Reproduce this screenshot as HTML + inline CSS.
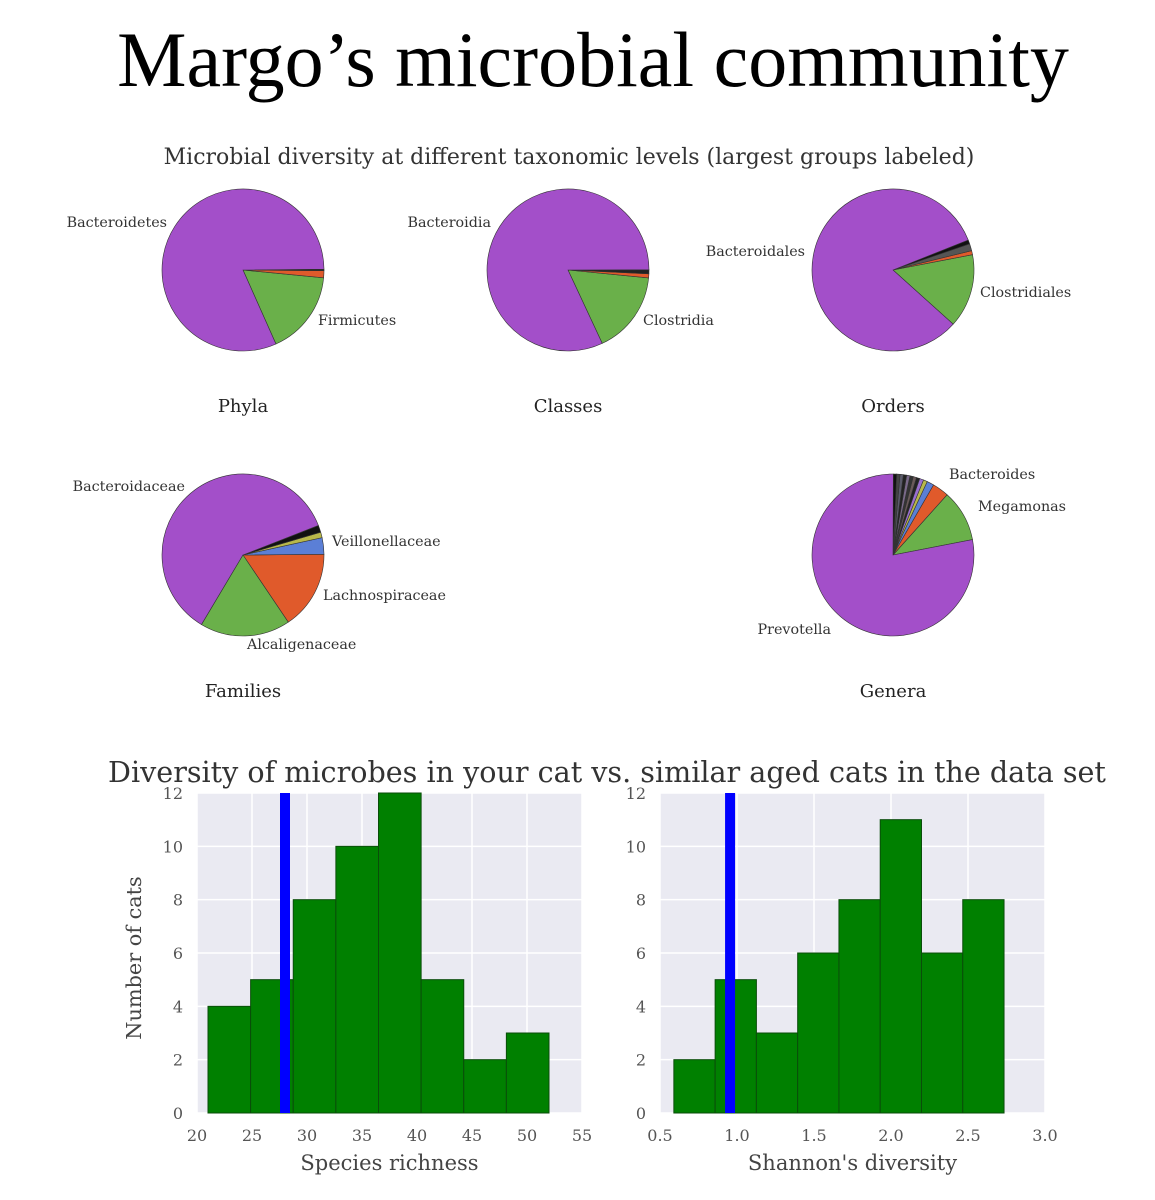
<!DOCTYPE html>
<html><head><meta charset="utf-8"><style>
body{margin:0;background:#fff;width:1155px;height:1200px;overflow:hidden}
svg{display:block}
.serif{font-family:"DejaVu Serif","Liberation Serif",serif}
</style></head><body>
<svg id="chart" width="1155" height="1200" viewBox="0 0 1155 1200">
<text x="593" y="86" text-anchor="middle" font-family="Liberation Serif, serif" font-size="78" fill="#000">Margo’s microbial community</text>
<text class="serif" x="569" y="164" text-anchor="middle" font-size="22" fill="#333">Microbial diversity at different taxonomic levels (largest groups labeled)</text>
<g id="pies"></g>
<g id="hists"></g>
</svg>
<script>
// ---- Pie data ----
const pieNames = ["Phyla","Classes","Orders","Families","Genera"];
const phylaValues = [0.168,0.014,0.003,0.815];
const classesValues = [0.165,0.008,0.008,0.819];
const ordersValues = [0.147,0.008,0.014,0.008,0.823];
const familiesValues = [0.157,0.033,0.011,0.014,0.605,0.18];
const generaValues = [0.103,0.033,0.014,0.008,0.008,0.0066,0.0066,0.0066,0.0066,0.0066,0.0066,0.0066,0.0066,0.781];
const phylaColors = ["#6ab04a","#e05a2b","#222","#a34fc9"];
const classesColors = ["#6ab04a","#e05a2b","#222","#a34fc9"];
const ordersColors = ["#6ab04a","#e05a2b","#555","#111","#a34fc9"];
const familiesColors = ["#e05a2b","#5b7fd6","#b8b84a","#111","#a34fc9","#6ab04a"];
const generaColors = ["#6ab04a","#e05a2b","#5b7fd6","#b8b84a","#9a6fd0","#222","#6a5a5a","#333","#7a6a8a","#222","#5a5a6a","#444","#111","#a34fc9"];
const pieStarts = [-66,-65,-42,-56,11];
const pieLabels = [
 [["Bacteroidetes",167,227,"end"],["Firmicutes",318,325,"start"]],
 [["Bacteroidia",491,227,"end"],["Clostridia",643,325,"start"]],
 [["Bacteroidales",805,256,"end"],["Clostridiales",980,297,"start"]],
 [["Bacteroidaceae",185,491,"end"],["Veillonellaceae",332,546,"start"],["Lachnospiraceae",323,600,"start"],["Alcaligenaceae",247,649,"start"]],
 [["Bacteroides",949,479,"start"],["Megamonas",978,511,"start"],["Prevotella",831,634,"end"]]
];
const pieCenters=[[243,270],[568,270],[893,270],[243,555],[893,555]];
const pieValues=[phylaValues,classesValues,ordersValues,familiesValues,generaValues];
const pieColors=[phylaColors,classesColors,ordersColors,familiesColors,generaColors];
const NS="http://www.w3.org/2000/svg";
const pies=document.getElementById('pies');
const R=81;
pieValues.forEach((vals,i)=>{
  const [cx,cy]=pieCenters[i];
  const tot=vals.reduce((a,b)=>a+b,0);
  let a=pieStarts[i];
  vals.forEach((v,j)=>{
    const sweep=v/tot*360;
    const a0=a*Math.PI/180,a1=(a+sweep)*Math.PI/180;
    const x0=cx+R*Math.cos(a0),y0=cy-R*Math.sin(a0),x1=cx+R*Math.cos(a1),y1=cy-R*Math.sin(a1);
    const p=document.createElementNS(NS,'path');
    p.setAttribute('d',`M${cx},${cy}L${x0},${y0}A${R},${R} 0 ${sweep>180?1:0} 0 ${x1},${y1}Z`);
    p.setAttribute('fill',pieColors[i][j]);
    p.setAttribute('stroke','#333');p.setAttribute('stroke-width','0.6');
    
    
    pies.appendChild(p);
    a+=sweep;
  });
  pieLabels[i].forEach(l=>{
    const t=document.createElementNS(NS,'text');
    t.setAttribute('x',l[1]);t.setAttribute('y',l[2]);t.setAttribute('text-anchor',l[3]);
    t.setAttribute('class','serif');t.setAttribute('font-size','14.3');t.setAttribute('fill','#333');
    t.textContent=l[0];
    
    
    pies.appendChild(t);
  });
  const t=document.createElementNS(NS,'text');
  t.setAttribute('x',cx);t.setAttribute('y',cy+142);t.setAttribute('text-anchor','middle');
  t.setAttribute('class','serif');t.setAttribute('font-size','18');t.setAttribute('fill','#222');
  t.textContent=pieNames[i];
  
  
  pies.appendChild(t);
});

// ---- Histogram data ----
const richnessCounts=[4,5,8,10,12,5,2,3];
const richnessEdges=[21,24.875,28.75,32.625,36.5,40.375,44.25,48.125,52];
const richnessTicks=[20,25,30,35,40,45,50,55];
const richnessCat=28;
const shannonCounts=[2,5,3,6,8,11,6,8];
const shannonEdges=[0.59,0.858,1.126,1.394,1.662,1.93,2.198,2.466,2.734];
const shannonTicks=["0.5","1.0","1.5","2.0","2.5","3.0"];
const shannonCat=0.955;
const yTicks=[0,2,4,6,8,10,12];

const H=document.getElementById('hists');
function el(tag,attrs,name,text){const e=document.createElementNS(NS,tag);for(const k in attrs)e.setAttribute(k,attrs[k]);
 
 
 if(text!==undefined)e.textContent=text;H.appendChild(e);return e;}
function hist(x0,x1,xmin,xmax,ticks,counts,edges,cat,xlabel){
  const top=793,bot=1113;
  const X=v=>x0+(v-xmin)/(xmax-xmin)*(x1-x0);
  const Y=v=>bot-v/12*(bot-top);
  el('rect',{x:x0,y:top,width:x1-x0,height:bot-top,fill:'#eaeaf2'},'plot-background');
  ticks.forEach(t=>{const x=X(+t);
    el('line',{x1:x,x2:x,y1:top,y2:bot,stroke:'#fff','stroke-width':1.5},'x-gridline');
    el('text',{x:x,y:bot+28,'text-anchor':'middle',class:'serif','font-size':16,fill:'#555'},'x-tick-label',String(t));});
  yTicks.forEach(t=>{const y=Y(t);
    el('line',{x1:x0,x2:x1,y1:y,y2:y,stroke:'#fff','stroke-width':1.5},'y-gridline');
    el('text',{x:x0-14,y:y+6,'text-anchor':'end',class:'serif','font-size':16,fill:'#555'},'y-tick-label',String(t));});
  counts.forEach((c,i)=>{
    el('rect',{x:X(edges[i]),y:Y(c),width:X(edges[i+1])-X(edges[i]),height:Y(0)-Y(c),fill:'#008000',stroke:'#0a4d0a','stroke-width':1},'histogram-bar');});
  el('rect',{x:X(cat)-5,y:top,width:10,height:bot-top,fill:'#0000ff'},'your-cat-line');
  el('text',{x:(x0+x1)/2,y:1170,'text-anchor':'middle',class:'serif','font-size':21,fill:'#444'},'x-axis-title',xlabel);
}
hist(197,582,20,55,richnessTicks,richnessCounts,richnessEdges,richnessCat,"Species richness");
hist(660,1045,0.5,3.0,shannonTicks,shannonCounts,shannonEdges,shannonCat,"Shannon's diversity");
el('text',{x:607,y:782,'text-anchor':'middle',class:'serif','font-size':28.6,fill:'#333'},'histograms-title',"Diversity of microbes in your cat vs. similar aged cats in the data set");
el('text',{x:0,y:0,transform:'translate(141,958) rotate(-90)','text-anchor':'middle',class:'serif','font-size':20.8,fill:'#444'},'y-axis-title',"Number of cats");
</script>
</body></html>
